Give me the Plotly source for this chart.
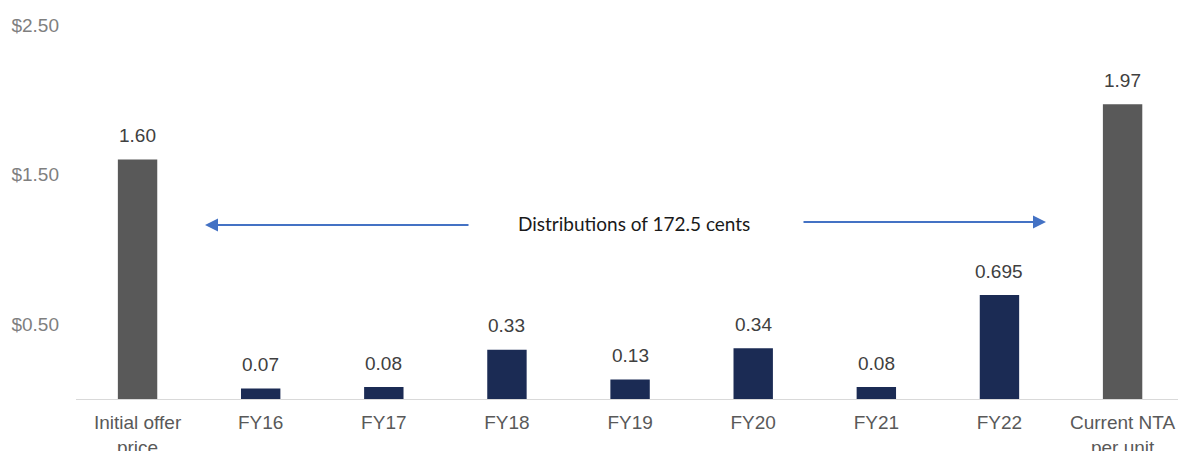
import plotly.graph_objects as go

categories = ["Initial offer<br>price", "FY16", "FY17", "FY18", "FY19", "FY20", "FY21", "FY22", "Current NTA<br>per unit"]
values = [1.60, 0.07, 0.08, 0.33, 0.13, 0.34, 0.08, 0.695, 1.97]
value_labels = ["1.60", "0.07", "0.08", "0.33", "0.13", "0.34", "0.08", "0.695", "1.97"]
y_tickvals = [0.5, 1.5, 2.5]
y_ticktext = ["$0.50", "$1.50", "$2.50"]
annotation_text = "Distributions of 172.5 cents"

GREY = "#595959"
NAVY = "#1b2b54"
colors = [GREY] + [NAVY] * 7 + [GREY]

xpos = list(range(len(categories)))

PLOT_L, PLOT_R, PLOT_T, PLOT_B = 76, 1178, 10, 399  # page pixels

fig = go.Figure()
fig.add_trace(go.Bar(
    x=xpos, y=values, marker=dict(color=colors, line=dict(width=0)),
    width=0.32, hoverinfo="skip",
))

for xi, v, t in zip(xpos, values, value_labels):
    fig.add_annotation(x=xi, y=v, text=t, showarrow=False, yanchor="middle",
                       yshift=24, font=dict(family="Liberation Sans, Arial", size=19, color="#404040"))


def px_x(p):
    return (p - PLOT_L) / (PLOT_R - PLOT_L)


def px_y(p):
    return (PLOT_B - p) / (PLOT_B - PLOT_T)


fig.add_annotation(xref="x domain", yref="y domain", x=px_x(634), y=px_y(223), text=annotation_text,
                   showarrow=False, font=dict(family="Lato, Liberation Sans", size=19, color="#1a1a1a"))
fig.add_annotation(xref="x domain", yref="y domain", x=px_x(205), y=px_y(225),
                   ax=px_x(470), ay=px_y(225), axref="x domain", ayref="y domain", text="",
                   showarrow=True, arrowhead=2, arrowsize=1.3, arrowwidth=2, arrowcolor="#4472c4")
fig.add_annotation(xref="x domain", yref="y domain", x=px_x(1046), y=px_y(222),
                   ax=px_x(802), ay=px_y(222), axref="x domain", ayref="y domain", text="",
                   showarrow=True, arrowhead=2, arrowsize=1.3, arrowwidth=2, arrowcolor="#4472c4")

W, H = 1178, 451
fig.update_layout(
    width=W, height=H,
    margin=dict(l=PLOT_L, r=W - PLOT_R, t=PLOT_T, b=H - PLOT_B, autoexpand=False),
    plot_bgcolor="white", paper_bgcolor="white",
    showlegend=False,
    xaxis=dict(
        range=[-0.5, 8.45], tickmode="array", tickvals=xpos, ticktext=categories,
        showgrid=False, zeroline=False, showline=True, linecolor="#d9d9d9", linewidth=1,
        ticks="", ticklabelstandoff=6, automargin=False,
        tickfont=dict(family="Liberation Sans, Arial", size=19, color="#595959"),
        fixedrange=True,
    ),
    yaxis=dict(
        range=[0, 2.6], tickmode="array", tickvals=y_tickvals, ticktext=y_ticktext,
        showgrid=False, zeroline=False, showline=False, ticks="",
        ticklabelstandoff=16, automargin=False,
        tickfont=dict(family="Liberation Sans, Arial", size=19, color="#7f7f7f"),
        fixedrange=True,
    ),
)

fig.write_html(
    "out.html",
    config={"displayModeBar": False},
    post_script="document.body.style.margin='0';document.body.style.overflow='hidden';",
)
